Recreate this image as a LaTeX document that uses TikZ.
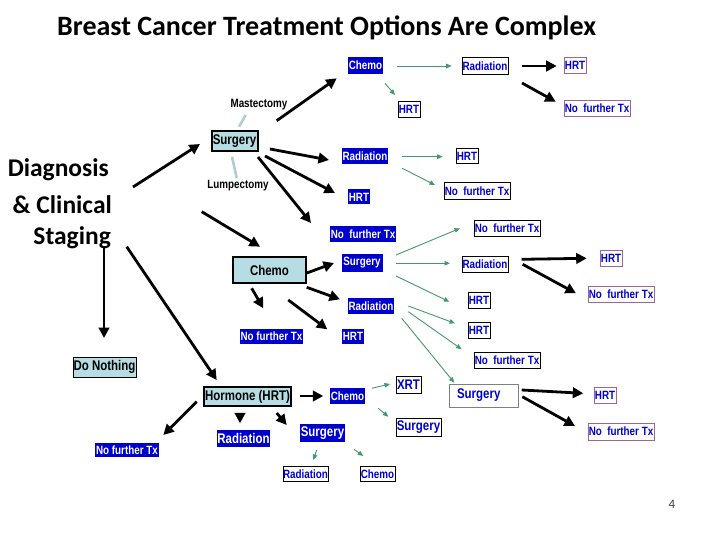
\documentclass[tikz,border=0pt]{standalone}
\usepackage{fontspec}
\setmainfont{Liberation Sans}
\newfontfamily\lab{Liberation Sans}[FakeStretch=0.82]
\newfontfamily\calb{Carlito}
\usetikzlibrary{arrows.meta,calc}
\definecolor{dblue}{RGB}{0,0,204}
\definecolor{mauve}{RGB}{160,100,150}
\definecolor{lblue}{RGB}{183,221,228}
\definecolor{agreen}{RGB}{70,150,115}
\definecolor{lgray}{RGB}{176,204,212}
\definecolor{pgnum}{RGB}{60,60,60}
\tikzset{
 box/.style={inner sep=0pt, font=\lab\bfseries\fontsize{12}{13}\selectfont},
 bf/.style={box,fill=dblue,text=white},
 wb/.style={box,draw=black,line width=0.8pt,fill=white,text=dblue},
 pb/.style={box,draw=mauve,line width=0.8pt,fill=white,text=dblue},
 gb/.style={box,draw=gray,line width=1pt,fill=white,text=dblue},
 lb/.style={box,fill=lblue,draw=black,line width=2pt,text=black,font=\lab\bfseries\fontsize{14}{16}\selectfont},
 big/.style={font=\lab\bfseries\fontsize{14}{16}\selectfont},
 lbl/.style={inner sep=0pt,font=\lab\bfseries\fontsize{12}{14}\selectfont},
 diag/.style={inner sep=0pt,anchor=base east,font=\calb\bfseries\fontsize{25.5}{30}\selectfont},
 blk/.style={line width=2.8pt,-{Triangle[length=10.5pt,width=10.5pt]}},
 grn/.style={draw=agreen,line width=0.9pt,-{Triangle[length=5.5pt,width=4.5pt]}},
 glink/.style={draw=lgray,line width=2.6pt}
}
\begin{document}
\begin{tikzpicture}[x=1pt,y=-1pt]
\useasboundingbox[fill=white] (0,0) rectangle (720,540);

% title
\node[inner sep=0pt,anchor=base west,font=\calb\bfseries\fontsize{28}{32}\selectfont] (title) at (57,36) {Breast Cancer Treatment Options Are Complex};
\node[inner sep=0pt,text=pgnum,font=\calb\fontsize{13}{15}\selectfont] (pg) at (672,504) {4};

% diagnosis
\node[diag] (d1) at (109,176.7) {Diagnosis};
\node[diag] (d2) at (112,213.3) {\& Clinical};
\node[diag] (d3) at (111,244) {Staging};

% surgery branch
\node[lb,minimum width=46pt,minimum height=20pt] (surg1) at (234.5,140.7) {Surgery};
\node[lbl] (mast) at (259,105) {Mastectomy};
\node[lbl] (lump) at (238,186) {Lumpectomy};
\node[bf,minimum width=35pt,minimum height=17pt] (chemoA) at (365.5,65.5) {Chemo};
\node[wb,minimum width=22pt,minimum height=16pt] (hrtA) at (409,109) {HRT};
\node[wb,minimum width=46pt,minimum height=17pt] (radA) at (485,66) {Radiation};
\node[pb,minimum width=22pt,minimum height=16pt] (hrtAp) at (575,65) {HRT};
\node[pb,minimum width=66pt,minimum height=16pt] (nftAp) at (597,108) {No~ further Tx};
\node[bf,minimum width=46pt,minimum height=16pt] (radB) at (365,156) {Radiation};
\node[wb,minimum width=22pt,minimum height=15pt] (hrtB) at (467,156) {HRT};
\node[wb,minimum width=66pt,minimum height=17pt] (nftB) at (477,191) {No~ further Tx};
\node[bf,minimum width=22pt,minimum height=15pt] (hrtC) at (359,197) {HRT};
\node[bf,minimum width=66pt,minimum height=15pt] (nftC) at (363,234) {No~ further Tx};

% chemo branch
\node[lb,minimum width=73pt,minimum height=26pt] (chemoM) at (269.5,270) {Chemo};
\node[bf,minimum width=41pt,minimum height=18pt] (surgM) at (362,263) {Surgery};
\node[bf,minimum width=46pt,minimum height=16pt] (radM) at (371,306) {Radiation};
\node[bf,minimum width=63pt,minimum height=15pt] (nftM) at (271.5,336) {No further Tx};
\node[bf,minimum width=22pt,minimum height=15pt] (hrtM) at (353,336) {HRT};
\node[wb,minimum width=66pt,minimum height=16pt] (nftR1) at (507,228) {No~ further Tx};
\node[wb,minimum width=46pt,minimum height=16pt] (radR) at (485,264) {Radiation};
\node[pb,minimum width=22pt,minimum height=16pt] (hrtRp) at (611,258) {HRT};
\node[pb,minimum width=66pt,minimum height=16pt] (nftRp) at (621,294) {No~ further Tx};
\node[wb,minimum width=22pt,minimum height=16pt] (hrtR1) at (479,300) {HRT};
\node[wb,minimum width=22pt,minimum height=16pt] (hrtR2) at (479,330) {HRT};
\node[wb,minimum width=66pt,minimum height=16pt] (nftR2) at (507,360) {No~ further Tx};

% do nothing
\node[lb,line width=0.8pt,minimum width=63pt,minimum height=20pt] (donoth) at (104.5,367) {Do Nothing};

% hormone branch
\node[lb,minimum width=87pt,minimum height=19pt] (horm) at (247.5,396.5) {Hormone (HRT)};
\node[bf,minimum width=35pt,minimum height=16pt] (chemoH) at (347.5,396) {Chemo};
\node[wb,big,minimum width=25pt,minimum height=17pt] (xrt) at (408.5,385) {XRT};
\node[wb,big,minimum width=45pt,minimum height=18pt] (surgW) at (418.5,427) {Surgery};
\node[gb,big,inner xsep=8pt,text width=53pt,align=left,minimum height=23pt] (surgG) at (483.5,395.5) {Surgery};
\node[pb,minimum width=22pt,minimum height=16pt] (hrtGp) at (605,395) {HRT};
\node[pb,minimum width=66pt,minimum height=17pt] (nftGp) at (621,431.5) {No~ further Tx};
\node[bf,big,minimum width=53pt,minimum height=17pt] (radH) at (243.5,438.5) {Radiation};
\node[bf,big,minimum width=45pt,minimum height=18pt] (surgH) at (322.5,433) {Surgery};
\node[bf,minimum width=64pt,minimum height=14pt] (nftH) at (127,450) {No further Tx};
\node[wb,minimum width=45pt,minimum height=15pt] (radS) at (305.5,474) {Radiation};
\node[wb,minimum width=35pt,minimum height=15pt] (chemoS) at (377.5,474) {Chemo};

% gray links
\draw[glink] ($(mast)+(-13.3,10)$) -- ($(surg1)+(4.5,-14)$);
\draw[glink] ($(surg1)+(-2.5,16)$) -- ($(lump)+(-1.3,-8)$);

% black arrows
\draw[blk] ($(d1.base east)+(24,10.3)$) -- ($(surg1)+(-34.5,3.3)$);
\draw[blk] ($(d2.base east)+(89.7,-1.6)$) -- ($(chemoM)+(-9.5,-23.3)$);
\draw[blk] ($(d3.base east)+(-7,3)$) -- ($(donoth)+(-0.5,-29)$);
\draw[blk] ($(d3.base east)+(15.7,2.7)$) -- ($(horm)+(-30.8,-16.5)$);
\draw[blk] ($(surg1)+(42.2,-20)$) -- ($(chemoA)+(-28.8,12.8)$);
\draw[blk] ($(surg1)+(35.5,8.3)$) -- ($(radB)+(-36,4)$);
\draw[blk] ($(surg1)+(30.5,15.3)$) -- ($(hrtC)+(-24,-4)$);
\draw[blk] ($(surg1)+(23.5,16.3)$) -- ($(nftC)+(-52,-11)$);
\draw[blk] ($(radA)+(36.7,0)$) -- ($(hrtAp)+(-18.3,1)$);
\draw[blk] ($(radA)+(37,17)$) -- ($(nftAp)+(-41.3,-6.3)$);
\draw[blk] ($(chemoM)+(36.5,3.3)$) -- ($(surgM)+(-28,0)$);
\draw[blk] ($(chemoM)+(37.2,17.3)$) -- ($(radM)+(-31,-6.7)$);
\draw[blk] ($(chemoM)+(-17.8,18.3)$) -- ($(nftM)+(-8.2,-27.7)$);
\draw[blk] ($(chemoM)+(18.8,30)$) -- ($(hrtM)+(-25.7,-6.7)$);
\draw[blk] ($(radR)+(36.7,-4.7)$) -- ($(hrtRp)+(-24.3,0.3)$);
\draw[blk] ($(radR)+(37.7,0.3)$) -- ($(nftRp)+(-45,-0.7)$);
\draw[blk] ($(horm)+(52.5,-0.5)$) -- ($(chemoH)+(-24.2,0)$);
\draw[blk] ($(horm)+(-7.5,17.5)$) -- ($(radH)+(-3.5,-15.2)$);
\draw[blk] ($(horm)+(29.2,16.5)$) -- ($(surgH)+(-35.8,-8)$);
\draw[blk] ($(horm)+(-50.8,5.2)$) -- ($(nftH)+(36.3,-15)$);
\draw[blk] ($(surgG)+(38.2,-5.5)$) -- ($(hrtGp)+(-21.7,-1.7)$);
\draw[blk] ($(surgG)+(38.8,1.2)$) -- ($(nftGp)+(-46,-5.5)$);

% green arrows
\draw[grn] ($(chemoA)+(31.2,0.5)$) -- ($(radA)+(-33.3,0)$);
\draw[grn] ($(chemoA)+(19.5,17.8)$) -- ($(hrtA)+(-14,-14)$);
\draw[grn] ($(radB)+(37.3,0.7)$) -- ($(hrtB)+(-24.3,0.7)$);
\draw[grn] ($(radB)+(37.3,12.3)$) -- ($(nftB)+(-42,-6)$);
\draw[grn] ($(surgM)+(34,-8)$) -- ($(nftR1)+(-47,0.3)$);
\draw[grn] ($(surgM)+(34,0.3)$) -- ($(radR)+(-35,-0.7)$);
\draw[grn] ($(surgM)+(34,13)$) -- ($(hrtR1)+(-29.7,1.7)$);
\draw[grn] ($(radM)+(37.3,0)$) -- ($(hrtR2)+(-24,-6.7)$);
\draw[grn] ($(radM)+(37.3,5.7)$) -- ($(nftR2)+(-45.3,-10.7)$);
\draw[grn] ($(radM)+(30.7,12.3)$) -- ($(surgG)+(-29.2,-12.8)$);
\draw[grn] ($(chemoH)+(24.2,-7.7)$) -- ($(xrt)+(-18.5,-1)$);
\draw[grn] ($(chemoH)+(30.8,12.3)$) -- ($(surgW)+(-30.2,-10.3)$);
\draw[grn] ($(surgH)+(-5.8,17)$) -- ($(radS)+(7.8,-14)$);
\draw[grn] ($(surgH)+(31.5,16.3)$) -- ($(chemoS)+(-14.2,-18)$);
\end{tikzpicture}
\end{document}
